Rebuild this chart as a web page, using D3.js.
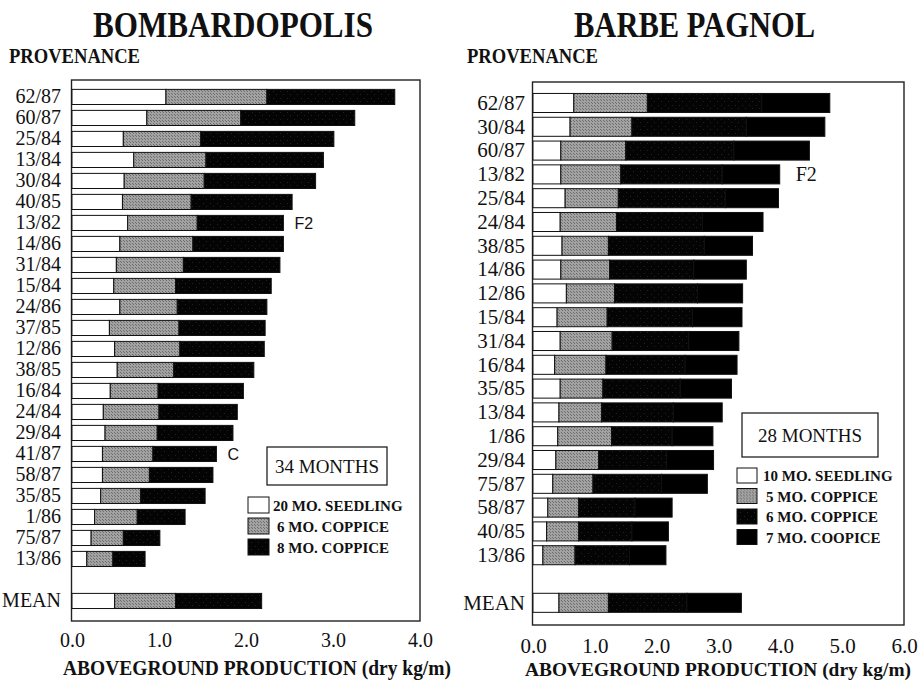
<!DOCTYPE html>
<html>
<head>
<meta charset="utf-8">
<script src="https://cdn.jsdelivr.net/npm/d3@7"></script>
<style>
  html, body { margin: 0; padding: 0; background: #fff; }
  svg { display: block; }
  text { font-family: "Liberation Serif", "Times New Roman", serif; fill: #111; }
</style>
</head>
<body>
<svg id="chart" width="919" height="686"></svg>
<script>
// ---- Bombardopolis, 34 months: aboveground production by provenance (dry kg/m)
const bombProvenances = ["62/87","60/87","25/84","13/84","30/84","40/85","13/82","14/86","31/84","15/84",
  "24/86","37/85","12/86","38/85","16/84","24/84","29/84","41/87","58/87","35/85","1/86","75/87","13/86"];
const bombSeedling20 = [1.08,0.86,0.59,0.71,0.60,0.58,0.64,0.55,0.51,0.48,0.55,0.43,0.49,0.52,0.44,0.36,0.38,0.35,0.35,0.33,0.26,0.22,0.17];
const bombCoppice6   = [1.16,1.08,0.89,0.83,0.92,0.79,0.80,0.84,0.77,0.71,0.66,0.80,0.75,0.65,0.55,0.64,0.60,0.58,0.54,0.46,0.49,0.37,0.30];
const bombCoppice8   = [1.47,1.31,1.53,1.35,1.28,1.16,0.99,1.04,1.11,1.10,1.03,0.99,0.97,0.92,0.98,0.90,0.87,0.73,0.73,0.74,0.55,0.42,0.37];
const bombMean = [0.49, 0.70, 0.99];
const bombSeries = ["20 MO. SEEDLING", "6 MO. COPPICE", "8 MO. COPPICE"];
const bombNotes = [{row: "13/82", text: "F2"}, {row: "41/87", text: "C"}];
const bombTicks = [0, 1, 2, 3, 4];

// ---- Barbe Pagnol, 28 months
const barbeProvenances = ["62/87","30/84","60/87","13/82","25/84","24/84","38/85","14/86","12/86","15/84",
  "31/84","16/84","35/85","13/84","1/86","29/84","75/87","58/87","40/85","13/86"];
const barbeSeedling10 = [0.66,0.60,0.45,0.45,0.52,0.44,0.47,0.45,0.54,0.39,0.44,0.35,0.44,0.42,0.40,0.37,0.32,0.24,0.22,0.16];
const barbeCoppice5   = [1.19,1.00,1.05,0.97,0.86,0.91,0.75,0.79,0.78,0.81,0.84,0.83,0.69,0.69,0.87,0.69,0.65,0.50,0.52,0.52];
const barbeCoppice6   = [1.85,1.85,1.75,1.64,1.73,1.39,1.55,1.36,1.34,1.38,1.24,1.28,1.25,1.16,0.98,1.10,1.11,0.91,0.86,0.88];
const barbeCoppice7   = [1.10,1.27,1.22,0.93,0.86,0.98,0.78,0.85,0.73,0.80,0.81,0.84,0.83,0.79,0.66,0.76,0.74,0.60,0.59,0.59];
const barbeMean = [0.42, 0.80, 1.27, 0.88];
const barbeSeries = ["10 MO. SEEDLING", "5 MO. COPPICE", "6 MO. COPPICE", "7 MO. COOPICE"];
const barbeNotes = [{row: "13/82", text: "F2"}];
const barbeTicks = [0, 1, 2, 3, 4, 5, 6];

const svg = d3.select("#chart");

// stippled fills
const defs = svg.append("defs");
function stipple(id, base, dot, size) {
  const p = defs.append("pattern").attr("id", id).attr("patternUnits", "userSpaceOnUse")
    .attr("width", size).attr("height", size);
  p.append("rect").attr("width", size).attr("height", size).attr("fill", base);
  p.append("rect").attr("x", 0).attr("y", 0).attr("width", 1).attr("height", 1).attr("fill", dot);
  p.append("rect").attr("x", Math.floor(size / 2)).attr("y", Math.floor(size / 2)).attr("width", 1).attr("height", 1).attr("fill", dot);
}
stipple("grayDots", "#a2a2a2", "#6e6e6e", 3);
stipple("darkDots", "#040404", "#222222", 7);

function panel(cfg) {
  const g = svg.append("g");
  const rows = cfg.provenances.concat([" ", "MEAN"]);
  const values = cfg.provenances.map((p, i) => {
    const o = {row: p};
    cfg.series.forEach((s, k) => { o[s] = cfg.columns[k][i]; });
    return o;
  });
  const meanRow = {row: "MEAN"};
  cfg.series.forEach((s, k) => { meanRow[s] = cfg.mean[k]; });
  values.push(meanRow);

  const x = d3.scaleLinear().domain(cfg.domain).range([cfg.left, cfg.right]);
  const y = d3.scaleBand().domain(rows).range([cfg.bandTop, cfg.bandBottom]).padding(cfg.pad);

  const stacked = d3.stack().keys(cfg.series)(values);

  // frame
  g.append("rect")
    .attr("x", cfg.left - 0.5).attr("y", cfg.top)
    .attr("width", cfg.right - cfg.left + 0.5).attr("height", cfg.bottom - cfg.top)
    .attr("fill", "none").attr("stroke", "#222").attr("stroke-width", 1.4);

  // stacked bars
  g.selectAll("g.layer").data(stacked).join("g")
    .attr("class", "layer")
    .attr("fill", (d, i) => cfg.fills[i])
    .selectAll("rect").data(d => d).join("rect")
    .attr("x", d => x(d[0]))
    .attr("y", d => y(d.data.row))
    .attr("width", d => x(d[1]) - x(d[0]))
    .attr("height", y.bandwidth())
    .attr("stroke", "#111").attr("stroke-width", 1);

  // notes beside bars
  cfg.notes.forEach(n => {
    const v = values.find(d => d.row === n.row);
    const total = d3.sum(cfg.series, s => v[s]);
    g.append("text")
      .attr("x", x(total) + cfg.noteGap)
      .attr("y", y(n.row) + y.bandwidth() / 2)
      .attr("dy", "0.35em")
      .style("font-family", cfg.noteFont)
      .style("font-size", cfg.noteSize + "px")
      .text(n.text);
  });

  // category axis
  const ya = g.append("g").attr("transform", `translate(${cfg.left},0)`)
    .call(d3.axisLeft(y).tickSize(0).tickPadding(cfg.yPad));
  ya.select(".domain").remove();
  ya.selectAll("text")
    .style("font-family", '"Liberation Serif", serif')
    .style("font-size", cfg.ySize + "px").attr("fill", "#111");

  // value axis
  const xa = g.append("g").attr("transform", `translate(0,${cfg.bottom})`)
    .call(d3.axisBottom(x).tickValues(cfg.ticks).tickFormat(d3.format(".1f")).tickSize(0).tickPadding(cfg.xPad));
  xa.select(".domain").remove();
  xa.selectAll("text")
    .style("font-family", '"Liberation Serif", serif')
    .style("font-size", cfg.xSize + "px").attr("fill", "#111");

  // titles
  g.append("text").attr("x", cfg.titleX).attr("y", 37)
    .attr("textLength", cfg.titleLen).attr("lengthAdjust", "spacingAndGlyphs")
    .style("font-size", "36px").style("font-weight", "bold").text(cfg.title);
  g.append("text").attr("x", cfg.provX).attr("y", 63)
    .attr("textLength", 131).attr("lengthAdjust", "spacingAndGlyphs")
    .style("font-size", "20px").style("font-weight", "bold").text("PROVENANCE");
  g.append("text").attr("x", cfg.axisTitleX).attr("y", cfg.axisTitleY)
    .attr("textLength", cfg.axisTitleLen).attr("lengthAdjust", "spacingAndGlyphs")
    .style("font-size", cfg.axisTitleSize + "px").style("font-weight", "bold")
    .text("ABOVEGROUND PRODUCTION (dry kg/m)");

  // legend: age box + swatches
  const L = cfg.legend;
  g.append("rect").attr("x", L.boxX).attr("y", L.boxY).attr("width", L.boxW).attr("height", L.boxH)
    .attr("fill", "#fff").attr("stroke", "#222").attr("stroke-width", 1.3);
  g.append("text").attr("x", L.boxX + L.boxW / 2).attr("y", L.boxY + L.boxH / 2)
    .attr("dy", "0.35em").attr("text-anchor", "middle")
    .style("font-size", "19px").text(L.label);
  const items = g.selectAll("g.item").data(cfg.series).join("g")
    .attr("class", "item")
    .attr("transform", (d, i) => `translate(${L.swX},${L.swY + i * L.step})`);
  items.append("rect").attr("width", L.swW).attr("height", L.swH)
    .attr("fill", (d, i) => cfg.fills[i]).attr("stroke", "#111").attr("stroke-width", 1);
  items.append("text").attr("x", (d, i) => i === 0 ? L.textX0 : L.textX)
    .attr("y", L.swH / 2).attr("dy", "0.38em")
    .style("font-size", "15px").style("font-weight", "bold").text(d => d);
}

panel({
  provenances: bombProvenances,
  columns: [bombSeedling20, bombCoppice6, bombCoppice8],
  mean: bombMean,
  series: bombSeries,
  fills: ["#ffffff", "url(#grayDots)", "url(#darkDots)"],
  notes: bombNotes, noteFont: '"Liberation Sans", Arial, sans-serif', noteSize: 16, noteGap: 11,
  domain: [0, 4], ticks: bombTicks,
  left: 72, right: 420, top: 80, bottom: 621,
  bandTop: 83.5, bandBottom: 614.4, pad: 0.28,
  ySize: 20, yPad: 11, xSize: 20, xPad: 12,
  title: "BOMBARDOPOLIS", titleX: 93, titleLen: 280,
  provX: 9, axisTitleX: 63, axisTitleY: 675, axisTitleLen: 388, axisTitleSize: 20,
  legend: {boxX: 267, boxY: 447, boxW: 120, boxH: 38, label: "34 MONTHS",
           swX: 248, swY: 497, swW: 21, swH: 16, step: 21, textX0: 25, textX: 29}
});

panel({
  provenances: barbeProvenances,
  columns: [barbeSeedling10, barbeCoppice5, barbeCoppice6, barbeCoppice7],
  mean: barbeMean,
  series: barbeSeries,
  fills: ["#ffffff", "url(#grayDots)", "url(#darkDots)", "#000000"],
  notes: barbeNotes, noteFont: '"Liberation Serif", serif', noteSize: 20, noteGap: 16,
  domain: [0, 6], ticks: barbeTicks,
  left: 533, right: 904, top: 82, bottom: 625,
  bandTop: 88.7, bandBottom: 617.1, pad: 0.2,
  ySize: 21, yPad: 8, xSize: 21, xPad: 13,
  title: "BARBE PAGNOL", titleX: 574, titleLen: 241,
  provX: 467, axisTitleX: 525, axisTitleY: 676, axisTitleLen: 386, axisTitleSize: 19,
  legend: {boxX: 742, boxY: 413, boxW: 136, boxH: 44, label: "28 MONTHS",
           swX: 737, swY: 468, swW: 20, swH: 15, step: 20.5, textX0: 26, textX: 29}
});
</script>
</body>
</html>
